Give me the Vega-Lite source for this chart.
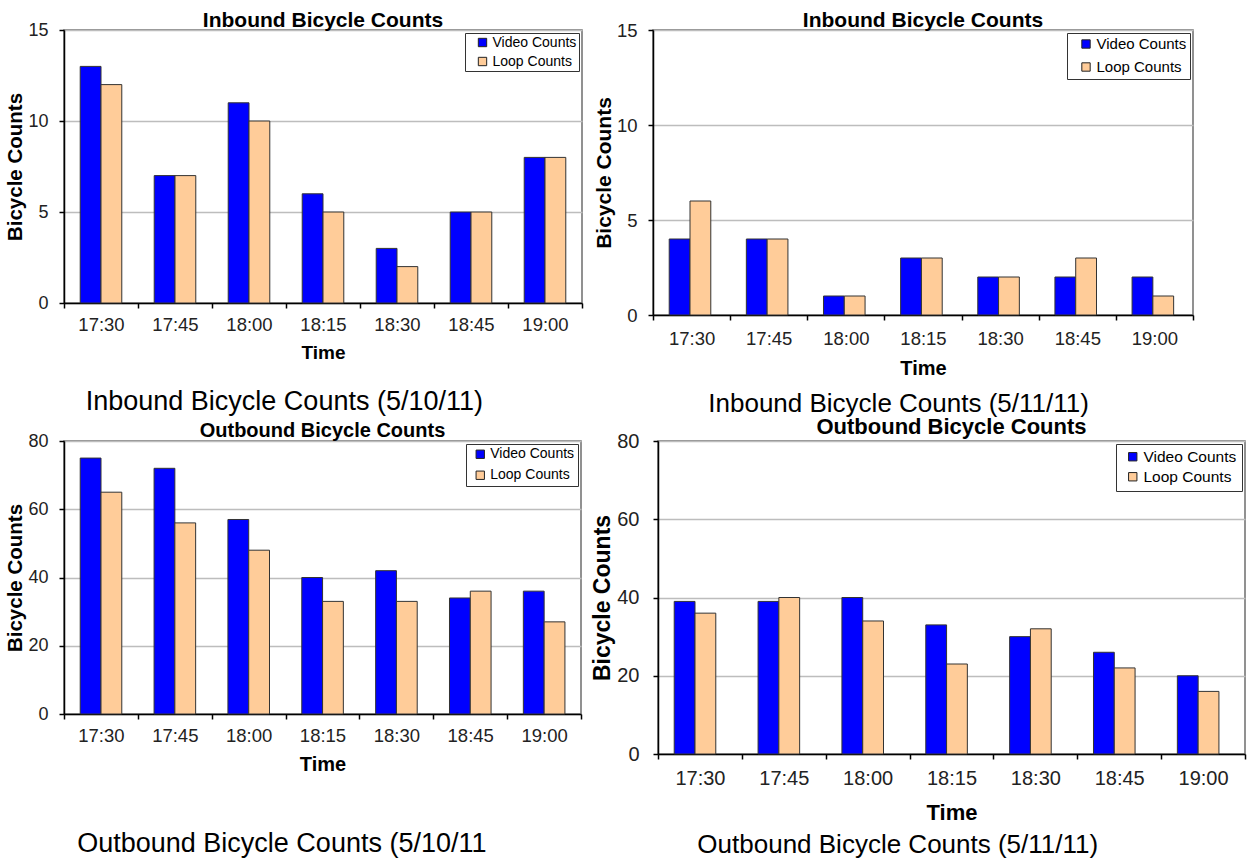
{
  "$schema": "https://vega.github.io/schema/vega-lite/v6.json",
  "background": "white",
  "padding": {"left": 5, "top": 9, "right": 5, "bottom": 0},
  "datasets": {
    "in510": [
      {"time": "17:30", "series": "Video Counts", "count": 13}, {"time": "17:30", "series": "Loop Counts", "count": 12},
      {"time": "17:45", "series": "Video Counts", "count": 7}, {"time": "17:45", "series": "Loop Counts", "count": 7},
      {"time": "18:00", "series": "Video Counts", "count": 11}, {"time": "18:00", "series": "Loop Counts", "count": 10},
      {"time": "18:15", "series": "Video Counts", "count": 6}, {"time": "18:15", "series": "Loop Counts", "count": 5},
      {"time": "18:30", "series": "Video Counts", "count": 3}, {"time": "18:30", "series": "Loop Counts", "count": 2},
      {"time": "18:45", "series": "Video Counts", "count": 5}, {"time": "18:45", "series": "Loop Counts", "count": 5},
      {"time": "19:00", "series": "Video Counts", "count": 8}, {"time": "19:00", "series": "Loop Counts", "count": 8}
    ],
    "in511": [
      {"time": "17:30", "series": "Video Counts", "count": 4}, {"time": "17:30", "series": "Loop Counts", "count": 6},
      {"time": "17:45", "series": "Video Counts", "count": 4}, {"time": "17:45", "series": "Loop Counts", "count": 4},
      {"time": "18:00", "series": "Video Counts", "count": 1}, {"time": "18:00", "series": "Loop Counts", "count": 1},
      {"time": "18:15", "series": "Video Counts", "count": 3}, {"time": "18:15", "series": "Loop Counts", "count": 3},
      {"time": "18:30", "series": "Video Counts", "count": 2}, {"time": "18:30", "series": "Loop Counts", "count": 2},
      {"time": "18:45", "series": "Video Counts", "count": 2}, {"time": "18:45", "series": "Loop Counts", "count": 3},
      {"time": "19:00", "series": "Video Counts", "count": 2}, {"time": "19:00", "series": "Loop Counts", "count": 1}
    ],
    "out510": [
      {"time": "17:30", "series": "Video Counts", "count": 75}, {"time": "17:30", "series": "Loop Counts", "count": 65},
      {"time": "17:45", "series": "Video Counts", "count": 72}, {"time": "17:45", "series": "Loop Counts", "count": 56},
      {"time": "18:00", "series": "Video Counts", "count": 57}, {"time": "18:00", "series": "Loop Counts", "count": 48},
      {"time": "18:15", "series": "Video Counts", "count": 40}, {"time": "18:15", "series": "Loop Counts", "count": 33},
      {"time": "18:30", "series": "Video Counts", "count": 42}, {"time": "18:30", "series": "Loop Counts", "count": 33},
      {"time": "18:45", "series": "Video Counts", "count": 34}, {"time": "18:45", "series": "Loop Counts", "count": 36},
      {"time": "19:00", "series": "Video Counts", "count": 36}, {"time": "19:00", "series": "Loop Counts", "count": 27}
    ],
    "out511": [
      {"time": "17:30", "series": "Video Counts", "count": 39}, {"time": "17:30", "series": "Loop Counts", "count": 36},
      {"time": "17:45", "series": "Video Counts", "count": 39}, {"time": "17:45", "series": "Loop Counts", "count": 40},
      {"time": "18:00", "series": "Video Counts", "count": 40}, {"time": "18:00", "series": "Loop Counts", "count": 34},
      {"time": "18:15", "series": "Video Counts", "count": 33}, {"time": "18:15", "series": "Loop Counts", "count": 23},
      {"time": "18:30", "series": "Video Counts", "count": 30}, {"time": "18:30", "series": "Loop Counts", "count": 32},
      {"time": "18:45", "series": "Video Counts", "count": 26}, {"time": "18:45", "series": "Loop Counts", "count": 22},
      {"time": "19:00", "series": "Video Counts", "count": 20}, {"time": "19:00", "series": "Loop Counts", "count": 16}
    ]
  },
  "spacing": -3,
  "resolve": {"scale": {"color": "independent", "x": "independent", "y": "independent"}, "legend": {"color": "independent"}},
  "vconcat": [
    {
      "spacing": 8,
      "resolve": {"scale": {"color": "independent", "x": "independent", "y": "independent"}, "legend": {"color": "independent"}},
      "hconcat": [
        {
          "title": {"text": "Inbound Bicycle Counts (5/10/11)", "orient": "bottom", "anchor": "middle", "fontSize": 27, "fontWeight": "normal", "offset": 26, "dx": -10},
          "resolve": {"scale": {"color": "independent"}, "legend": {"color": "independent"}},
          "vconcat": [
            {
              "width": 518, "height": 273,
              "title": {"text": "Inbound Bicycle Counts", "fontSize": 21, "fontWeight": "bold", "offset": -10},
              "data": {"name": "in510"},
              "mark": {"type": "bar", "stroke": "#333333", "strokeWidth": 1},
              "encoding": {
                "x": {"field": "time", "type": "nominal", "sort": null, "scale": {"paddingInner": 0, "paddingOuter": 0},
                      "axis": {"title": "Time", "labelFontSize": 18.5, "titleFontSize": 19}},
                "xOffset": {"field": "series", "type": "nominal", "sort": ["Video Counts", "Loop Counts"], "scale": {"paddingInner": 0, "paddingOuter": 0.78}},
                "y": {"field": "count", "type": "quantitative", "scale": {"domain": [0, 15], "nice": false},
                      "axis": {"title": "Bicycle Counts", "values": [0, 5, 10, 15], "labelFontSize": 18, "titleFontSize": 20.5}},
                "color": {"field": "series", "type": "nominal", "sort": ["Video Counts", "Loop Counts"],
                          "scale": {"domain": ["Video Counts", "Loop Counts"], "range": ["#0000ff", "#ffcc99"]},
                          "legend": {"labelFontSize": 14, "rowPadding": 5, "padding": 2.5}}
              }
            }
          ]
        },
        {
          "title": {"text": "Inbound Bicycle Counts (5/11/11)", "orient": "bottom", "anchor": "middle", "fontSize": 26, "fontWeight": "normal", "offset": 12, "dx": 5},
          "resolve": {"scale": {"color": "independent"}, "legend": {"color": "independent"}},
          "vconcat": [
            {
              "width": 540, "height": 285,
              "title": {"text": "Inbound Bicycle Counts", "fontSize": 21, "fontWeight": "bold", "offset": -10},
              "data": {"name": "in511"},
              "mark": {"type": "bar", "stroke": "#333333", "strokeWidth": 1},
              "encoding": {
                "x": {"field": "time", "type": "nominal", "sort": null, "scale": {"paddingInner": 0, "paddingOuter": 0},
                      "axis": {"title": "Time", "labelFontSize": 18.5, "titleFontSize": 20, "labelPadding": 9, "titlePadding": 11}},
                "xOffset": {"field": "series", "type": "nominal", "sort": ["Video Counts", "Loop Counts"], "scale": {"paddingInner": 0, "paddingOuter": 0.74}},
                "y": {"field": "count", "type": "quantitative", "scale": {"domain": [0, 15], "nice": false},
                      "axis": {"title": "Bicycle Counts", "values": [0, 5, 10, 15], "labelFontSize": 18.5, "titleFontSize": 21}},
                "color": {"field": "series", "type": "nominal", "sort": ["Video Counts", "Loop Counts"],
                          "scale": {"domain": ["Video Counts", "Loop Counts"], "range": ["#0000ff", "#ffcc99"]},
                          "legend": {"labelFontSize": 15, "rowPadding": 7, "padding": 3.5}}
              }
            }
          ]
        }
      ]
    },
    {
      "spacing": 8,
      "resolve": {"scale": {"color": "independent", "x": "independent", "y": "independent"}, "legend": {"color": "independent"}},
      "hconcat": [
        {
          "title": {"text": "Outbound Bicycle Counts (5/10/11", "orient": "bottom", "anchor": "middle", "fontSize": 27, "fontWeight": "normal", "offset": 56, "dx": -12},
          "resolve": {"scale": {"color": "independent"}, "legend": {"color": "independent"}},
          "vconcat": [
            {
              "width": 517, "height": 273,
              "title": {"text": "Outbound Bicycle Counts", "fontSize": 20, "fontWeight": "bold", "offset": -9},
              "data": {"name": "out510"},
              "mark": {"type": "bar", "stroke": "#333333", "strokeWidth": 1},
              "encoding": {
                "x": {"field": "time", "type": "nominal", "sort": null, "scale": {"paddingInner": 0, "paddingOuter": 0},
                      "axis": {"title": "Time", "labelFontSize": 18.5, "titleFontSize": 20, "titlePadding": 10}},
                "xOffset": {"field": "series", "type": "nominal", "sort": ["Video Counts", "Loop Counts"], "scale": {"paddingInner": 0, "paddingOuter": 0.76}},
                "y": {"field": "count", "type": "quantitative", "scale": {"domain": [0, 80], "nice": false},
                      "axis": {"title": "Bicycle Counts", "values": [0, 20, 40, 60, 80], "labelFontSize": 18, "titleFontSize": 20.5}},
                "color": {"field": "series", "type": "nominal", "sort": ["Video Counts", "Loop Counts"],
                          "scale": {"domain": ["Video Counts", "Loop Counts"], "range": ["#0000ff", "#ffcc99"]},
                          "legend": {"labelFontSize": 14, "rowPadding": 7, "padding": 3.25, "symbolOffset": 4}}
              }
            }
          ]
        },
        {
          "title": {"text": "Outbound Bicycle Counts (5/11/11)", "orient": "bottom", "anchor": "middle", "fontSize": 26, "fontWeight": "normal", "offset": 8, "dx": -21},
          "resolve": {"scale": {"color": "independent"}, "legend": {"color": "independent"}},
          "vconcat": [
            {
              "width": 587, "height": 313,
              "title": {"text": "Outbound Bicycle Counts", "fontSize": 22, "fontWeight": "bold", "offset": -8},
              "data": {"name": "out511"},
              "mark": {"type": "bar", "stroke": "#333333", "strokeWidth": 1},
              "encoding": {
                "x": {"field": "time", "type": "nominal", "sort": null, "scale": {"paddingInner": 0, "paddingOuter": 0},
                      "axis": {"title": "Time", "labelFontSize": 20, "titleFontSize": 22, "labelPadding": 9, "titlePadding": 14}},
                "xOffset": {"field": "series", "type": "nominal", "sort": ["Video Counts", "Loop Counts"], "scale": {"paddingInner": 0, "paddingOuter": 0.72}},
                "y": {"field": "count", "type": "quantitative", "scale": {"domain": [0, 80], "nice": false},
                      "axis": {"title": "Bicycle Counts", "values": [0, 20, 40, 60, 80], "labelFontSize": 20, "titleFontSize": 23, "labelPadding": 14}},
                "color": {"field": "series", "type": "nominal", "sort": ["Video Counts", "Loop Counts"],
                          "scale": {"domain": ["Video Counts", "Loop Counts"], "range": ["#0000ff", "#ffcc99"]},
                          "legend": {"labelFontSize": 15.5, "rowPadding": 3, "padding": 5, "symbolOffset": 4}}
              }
            }
          ]
        }
      ]
    }
  ],
  "config": {
    "font": "Liberation Sans",
    "view": {"stroke": "#6e6e6e", "strokeWidth": 1.5},
    "title": {"color": "#000000", "font": "Liberation Sans"},
    "axis": {
      "domainColor": "#000000", "domainWidth": 1.5, "tickColor": "#000000", "tickWidth": 1.5, "tickSize": 5,
      "labelColor": "#222222", "labelFont": "Liberation Sans", "titleFont": "Liberation Sans",
      "titleColor": "#000000", "titleFontWeight": "bold"
    },
    "axisX": {"grid": false, "labelAngle": 0, "labelPadding": 7, "titlePadding": 10, "tickBand": "extent"},
    "axisY": {"grid": true, "gridColor": "#bdbdbd", "gridWidth": 1.5, "labelPadding": 11, "titlePadding": 2},
    "legend": {
      "title": null, "orient": "top-right", "offset": 3, "strokeColor": "#333333", "fillColor": "white",
      "symbolType": "square", "symbolSize": 70, "symbolStrokeColor": "#222222", "symbolStrokeWidth": 1,
      "symbolOffset": 8, "labelOffset": 3, "labelColor": "#000000", "labelFont": "Liberation Sans"
    }
  }
}
